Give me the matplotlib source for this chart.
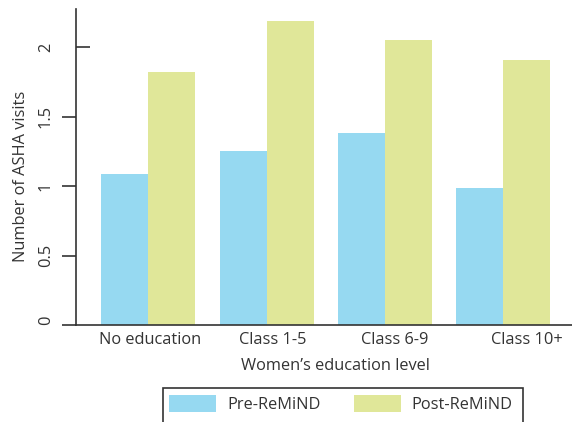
import matplotlib.pyplot as plt
import matplotlib.lines as mlines
import numpy as np
from matplotlib.patches import Rectangle

# -------------------- DATA --------------------
categories = ["No education", "Class 1-5", "Class 6-9", "Class 10+"]
pre_remind = [1.09, 1.255, 1.385, 0.99]
post_remind = [1.82, 2.19, 2.05, 1.91]
yticks = [0, 0.5, 1, 1.5, 2]
ytick_labels = ["0", "0.5", "1", "1.5", "2"]

blue = "#96d9f1"
green = "#e0e799"
text_col = "#333333"
fs = 11.8

plt.rcParams["font.family"] = ["Open Sans", "DejaVu Sans"]

fig = plt.figure(figsize=(5.72, 4.22), dpi=100)
ax = fig.add_axes([76 / 572, 97 / 422, 1 - 76 / 572, (325 - 9) / 422])

x = np.arange(len(categories))
width = 0.397
b1 = ax.bar(x - width / 2, pre_remind, width, color=blue, label="Pre-ReMiND")
b2 = ax.bar(x + width / 2, post_remind, width, color=green, label="Post-ReMiND")

ax.set_xlim(-0.61, 3.58)
ax.set_ylim(0, 2.276)

ax.spines["top"].set_visible(False)
ax.spines["right"].set_visible(False)
for s in ["left", "bottom"]:
    ax.spines[s].set_color(text_col)
    ax.spines[s].set_linewidth(1.2)

# category labels sit a little right of the bar pairs in the original
label_shift = np.array([0.02, 0.05, 0.08, 0.2])
ax.set_xticks(x + label_shift)
ax.set_xticklabels(categories, fontsize=fs, color=text_col)
ax.tick_params(axis="x", length=0, pad=5)

ax.set_yticks(yticks)
ax.set_yticklabels(ytick_labels, rotation=90, va="center", fontsize=fs, color=text_col)
ax.get_yticklabels()[0].set_va("bottom")
ax.tick_params(axis="y", direction="out", length=10, width=1.2, color=text_col, pad=6)
# the top tick points inward in the original
ax.yaxis.get_major_ticks()[4].tick1line.set_marker(mlines.TICKRIGHT)

ax.set_xlabel("Women\u2019s education level", fontsize=fs, color=text_col, labelpad=7)
ax.set_ylabel("Number of ASHA visits", fontsize=fs, color=text_col, labelpad=6)
ax.xaxis.label.set_x(0.524)
ax.yaxis.label.set_y(0.47)

# legend box runs off the bottom edge
fig.patches.append(Rectangle((163 / 572, -0.1), 360 / 572, 0.1 + 34 / 422,
                             transform=fig.transFigure, fill=False,
                             edgecolor=text_col, linewidth=1.2))
fig.legend(handles=[b1, b2], loc="center", bbox_to_anchor=(341 / 572, 18 / 422),
           ncol=2, frameon=False, fontsize=fs, handlelength=2.87, handleheight=1.22,
           handletextpad=0.67, columnspacing=2.0, labelcolor=text_col)

plt.savefig("out.png", dpi=100)
